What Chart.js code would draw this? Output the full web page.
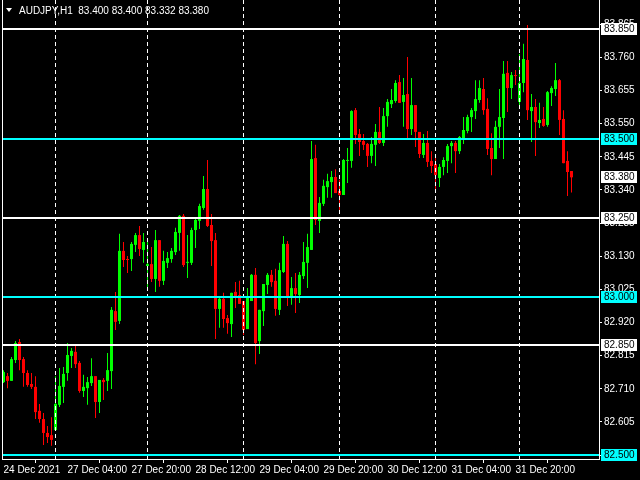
<!DOCTYPE html>
<html>
<head>
<meta charset="utf-8">
<title>AUDJPY,H1</title>
<script src="https://cdn.jsdelivr.net/npm/chart.js"></script>
<style>
  html, body { margin: 0; padding: 0; background: #000; }
</style>
</head>
<body>
<canvas id="chart" width="640" height="480"></canvas>
<script>
// H1 candles, 24 Dec 2021 00:00 .. 3 Jan 2022
const open = [
  82.731, 82.750, 82.735, 82.801, 82.858, 82.804, 82.760, 82.725, 82.716, 82.640,
  82.614, 82.570, 82.563, 82.579, 82.659, 82.716, 82.760, 82.814, 82.827, 82.792,
  82.703, 82.712, 82.728, 82.750, 82.668, 82.738, 82.735, 82.766, 82.956, 82.925,
  83.147, 83.121, 83.121, 83.166, 83.197, 83.150, 83.099, 83.105, 83.058, 83.181,
  83.052, 83.109, 83.121, 83.143, 83.204, 83.258, 83.109, 83.109, 83.213, 83.242,
  83.283, 83.343, 83.229, 83.181, 82.963, 82.995, 82.934, 82.915, 83.017, 83.007,
  82.988, 82.899, 82.988, 83.071, 82.861, 82.956, 83.039, 83.071, 83.052, 82.960,
  83.080, 83.169, 82.998, 83.029, 83.007, 83.067, 83.109, 83.150, 83.441, 83.242,
  83.296, 83.349, 83.365, 83.381, 83.337, 83.324, 83.432, 83.432, 83.593, 83.517,
  83.495, 83.486, 83.448, 83.483, 83.524, 83.489, 83.574, 83.612, 83.622, 83.682,
  83.619, 83.644, 83.533, 83.609, 83.524, 83.451, 83.489, 83.432, 83.422, 83.378,
  83.413, 83.432, 83.479, 83.489, 83.463, 83.502, 83.527, 83.571, 83.590, 83.625,
  83.660, 83.597, 83.473, 83.438, 83.540, 83.568, 83.711, 83.663, 83.704, 83.619,
  83.679, 83.752, 83.590, 83.603, 83.552, 83.565, 83.546, 83.647, 83.660, 83.688,
  83.565, 83.432, 83.400
];
const high = [
  82.769, 82.760, 82.811, 82.861, 82.868, 82.811, 82.769, 82.760, 82.750, 82.662,
  82.633, 82.592, 82.620, 82.750, 82.776, 82.779, 82.855, 82.839, 82.846, 82.798,
  82.754, 82.747, 82.807, 82.750, 82.738, 82.744, 82.823, 82.969, 83.017, 83.201,
  83.175, 83.131, 83.175, 83.204, 83.226, 83.204, 83.175, 83.159, 83.213, 83.181,
  83.147, 83.143, 83.156, 83.220, 83.261, 83.264, 83.197, 83.220, 83.251, 83.296,
  83.384, 83.435, 83.264, 83.204, 83.001, 83.014, 82.944, 83.014, 83.048, 83.052,
  82.988, 83.029, 83.074, 83.093, 82.960, 83.042, 83.077, 83.086, 83.090, 83.109,
  83.194, 83.178, 83.064, 83.077, 83.080, 83.175, 83.201, 83.495, 83.483, 83.318,
  83.372, 83.391, 83.400, 83.406, 83.372, 83.438, 83.473, 83.593, 83.600, 83.533,
  83.517, 83.489, 83.508, 83.549, 83.603, 83.600, 83.628, 83.660, 83.688, 83.704,
  83.695, 83.761, 83.695, 83.609, 83.524, 83.517, 83.527, 83.463, 83.448, 83.422,
  83.444, 83.486, 83.495, 83.495, 83.511, 83.571, 83.578, 83.600, 83.688, 83.688,
  83.695, 83.631, 83.520, 83.559, 83.660, 83.749, 83.749, 83.714, 83.720, 83.771,
  83.803, 83.863, 83.644, 83.628, 83.616, 83.603, 83.654, 83.669, 83.742, 83.692,
  83.593, 83.463, 83.400
];
const low = [
  82.728, 82.712, 82.735, 82.792, 82.769, 82.716, 82.716, 82.709, 82.614, 82.602,
  82.532, 82.538, 82.529, 82.576, 82.652, 82.665, 82.735, 82.776, 82.776, 82.697,
  82.684, 82.659, 82.719, 82.617, 82.633, 82.674, 82.703, 82.709, 82.896, 82.915,
  83.096, 83.077, 83.083, 83.143, 83.131, 83.109, 83.029, 83.048, 83.017, 83.033,
  83.039, 83.093, 83.109, 83.134, 83.147, 83.096, 83.061, 83.102, 83.156, 83.216,
  83.277, 83.223, 83.099, 82.868, 82.903, 82.903, 82.884, 82.874, 82.966, 82.979,
  82.880, 82.899, 82.988, 82.788, 82.820, 82.909, 83.010, 83.033, 82.941, 82.944,
  83.077, 82.972, 82.976, 82.950, 82.982, 83.058, 83.029, 83.150, 83.229, 83.204,
  83.289, 83.315, 83.315, 83.330, 83.267, 83.324, 83.362, 83.410, 83.486, 83.448,
  83.467, 83.413, 83.425, 83.416, 83.486, 83.479, 83.540, 83.600, 83.616, 83.616,
  83.540, 83.505, 83.514, 83.476, 83.441, 83.441, 83.413, 83.394, 83.340, 83.349,
  83.387, 83.394, 83.425, 83.394, 83.454, 83.486, 83.520, 83.524, 83.565, 83.616,
  83.578, 83.451, 83.387, 83.438, 83.473, 83.438, 83.587, 83.628, 83.673, 83.603,
  83.650, 83.562, 83.492, 83.448, 83.536, 83.540, 83.540, 83.606, 83.638, 83.514,
  83.425, 83.321, 83.332
];
const close = [
  82.763, 82.735, 82.804, 82.855, 82.801, 82.760, 82.722, 82.716, 82.636, 82.614,
  82.570, 82.557, 82.548, 82.662, 82.719, 82.757, 82.817, 82.830, 82.788, 82.703,
  82.716, 82.731, 82.750, 82.668, 82.738, 82.731, 82.769, 82.960, 82.922, 83.147,
  83.118, 83.118, 83.169, 83.197, 83.153, 83.175, 83.105, 83.058, 83.181, 83.052,
  83.115, 83.124, 83.147, 83.207, 83.258, 83.102, 83.112, 83.213, 83.245, 83.289,
  83.343, 83.226, 83.178, 82.963, 82.995, 82.931, 82.918, 83.014, 83.001, 82.979,
  82.896, 83.004, 83.071, 82.855, 82.960, 83.042, 83.071, 83.048, 82.963, 83.086,
  83.169, 83.001, 83.029, 83.010, 83.071, 83.112, 83.159, 83.438, 83.245, 83.299,
  83.353, 83.368, 83.381, 83.330, 83.324, 83.435, 83.435, 83.590, 83.514, 83.492,
  83.483, 83.448, 83.486, 83.524, 83.489, 83.574, 83.619, 83.625, 83.679, 83.616,
  83.641, 83.533, 83.609, 83.524, 83.454, 83.489, 83.429, 83.416, 83.387, 83.413,
  83.435, 83.479, 83.489, 83.463, 83.508, 83.530, 83.571, 83.593, 83.628, 83.663,
  83.593, 83.470, 83.438, 83.540, 83.571, 83.708, 83.663, 83.704, 83.701, 83.679,
  83.755, 83.593, 83.603, 83.555, 83.562, 83.543, 83.650, 83.663, 83.688, 83.562,
  83.425, 83.397, 83.380
];

// time axis: a label every 16 bars
const tickStep = 16;
const tickLabels = ['24 Dec 2021', '27 Dec 04:00', '27 Dec 20:00', '28 Dec 12:00', '29 Dec 04:00',
                    '29 Dec 20:00', '30 Dec 12:00', '31 Dec 04:00', '31 Dec 20:00'];
// bars where a new day starts (period separators)
const separators = [13, 36, 60, 84, 108, 129];

// price axis
const yTicks = [82.500, 82.605, 82.710, 82.815, 82.920, 83.025, 83.130, 83.235,
                83.340, 83.445, 83.550, 83.655, 83.760, 83.865];
const whiteLevels = [83.850, 83.250, 82.850];
const cyanLevels = [83.500, 83.000, 82.500];
const bid = 83.380;

const title = 'AUDJPY,H1  83.400 83.400 83.332 83.380';

const UP = '#00ff00', DOWN = '#ff0000', CYAN = '#00ffff';

const colors = close.map((c, i) => c >= open[i] ? UP : DOWN);
const wicks = high.map((h, i) => ({ x: i, y: [low[i], h] }));
const bodies = open.map((o, i) => ({ x: i, y: [Math.min(o, close[i]), Math.max(o, close[i])] }));

Chart.defaults.font.family = "'Liberation Sans', Arial, sans-serif";
Chart.defaults.font.size = 10;
Chart.defaults.color = '#ffffff';

const overlay = {
  id: 'overlay',
  afterDatasetsDraw(chart) {
    const { ctx, chartArea: a, scales: { x, y } } = chart;
    ctx.save();
    // day separators
    ctx.strokeStyle = '#ffffff';
    ctx.lineWidth = 1;
    ctx.setLineDash([4, 3]);
    separators.forEach(i => {
      const px = Math.floor(x.getPixelForValue(i)) + 0.5;
      ctx.beginPath();
      ctx.moveTo(px, a.top);
      ctx.lineTo(px, a.bottom);
      ctx.stroke();
    });
    ctx.setLineDash([]);
    // horizontal levels
    ctx.lineWidth = 2;
    const hline = (v, col) => {
      const py = Math.round(y.getPixelForValue(v));
      ctx.strokeStyle = col;
      ctx.beginPath();
      ctx.moveTo(a.left, py);
      ctx.lineTo(a.right, py);
      ctx.stroke();
    };
    whiteLevels.forEach(v => hline(v, '#ffffff'));
    cyanLevels.forEach(v => hline(v, CYAN));
    ctx.restore();
  },
  afterDraw(chart) {
    const { ctx, chartArea: a, scales: { y } } = chart;
    ctx.save();
    // left frame line
    ctx.strokeStyle = '#ffffff';
    ctx.lineWidth = 1;
    ctx.beginPath();
    ctx.moveTo(a.left + 0.5, a.top);
    ctx.lineTo(a.left + 0.5, a.bottom);
    ctx.stroke();

    // price boxes on the axis
    ctx.font = "10px 'Liberation Sans', Arial, sans-serif";
    ctx.textBaseline = 'middle';
    ctx.textAlign = 'left';
    const box = (v, bg) => {
      const py = Math.round(y.getPixelForValue(v));
      ctx.fillStyle = bg;
      ctx.fillRect(a.right + 2, py - 6, 36, 12);
      ctx.fillStyle = '#000000';
      ctx.fillText(v.toFixed(3), a.right + 5, py + 0.5);
    };
    whiteLevels.forEach(v => box(v, '#ffffff'));
    cyanLevels.forEach(v => box(v, CYAN));
    box(bid, '#ffffff');

    // symbol header
    ctx.fillStyle = '#ffffff';
    ctx.beginPath();
    ctx.moveTo(6, 8);
    ctx.lineTo(12, 8);
    ctx.lineTo(9, 12);
    ctx.closePath();
    ctx.fill();
    ctx.font = "10px 'Liberation Sans', Arial, sans-serif";
    ctx.textBaseline = 'alphabetic';
    ctx.fillText(title, 19, 14);
    ctx.restore();
  }
};

new Chart(document.getElementById('chart'), {
  type: 'bar',
  data: {
    datasets: [
      { data: wicks, backgroundColor: colors, barThickness: 1, stack: 'c', inflateAmount: 0, minBarLength: 1 },
      { data: bodies, backgroundColor: colors, barThickness: 3, stack: 'c', inflateAmount: 0, minBarLength: 1 }
    ]
  },
  options: {
    responsive: false,
    animation: false,
    events: [],
    layout: { padding: { left: 2, right: 0, top: 0, bottom: 0 } },
    plugins: { legend: { display: false }, tooltip: { enabled: false } },
    scales: {
      x: {
        type: 'linear',
        stacked: true,
        bounds: 'data',
        min: -0.375,
        max: 148.875,
        offset: false,
        grid: { drawOnChartArea: false, drawTicks: true, tickLength: 4, color: '#ffffff' },
        border: { display: true, color: '#ffffff' },
        ticks: {
          autoSkip: false, maxRotation: 0, minRotation: 0, align: 'start', padding: 1,
          color: '#ffffff',
          callback: v => tickLabels[v / tickStep] ?? ''
        },
        afterBuildTicks: s => { s.ticks = tickLabels.map((_, k) => ({ value: k * tickStep })); },
        afterFit: s => { s.height = 21; s.paddingLeft = 0; s.paddingRight = 0; }
      },
      y: {
        type: 'linear',
        position: 'right',
        stacked: false,
        bounds: 'data',
        min: 82.4874,
        max: 83.942,
        grid: { drawOnChartArea: false, drawTicks: true, tickLength: 3, color: '#ffffff' },
        border: { display: true, color: '#ffffff' },
        ticks: { autoSkip: false, padding: 2, color: '#ffffff', callback: v => Number(v).toFixed(3) },
        afterBuildTicks: s => { s.ticks = yTicks.map(v => ({ value: v })); },
        afterFit: s => { s.width = 41; s.paddingTop = 0; s.paddingBottom = 0; }
      }
    }
  },
  plugins: [overlay]
});
</script>
</body>
</html>
